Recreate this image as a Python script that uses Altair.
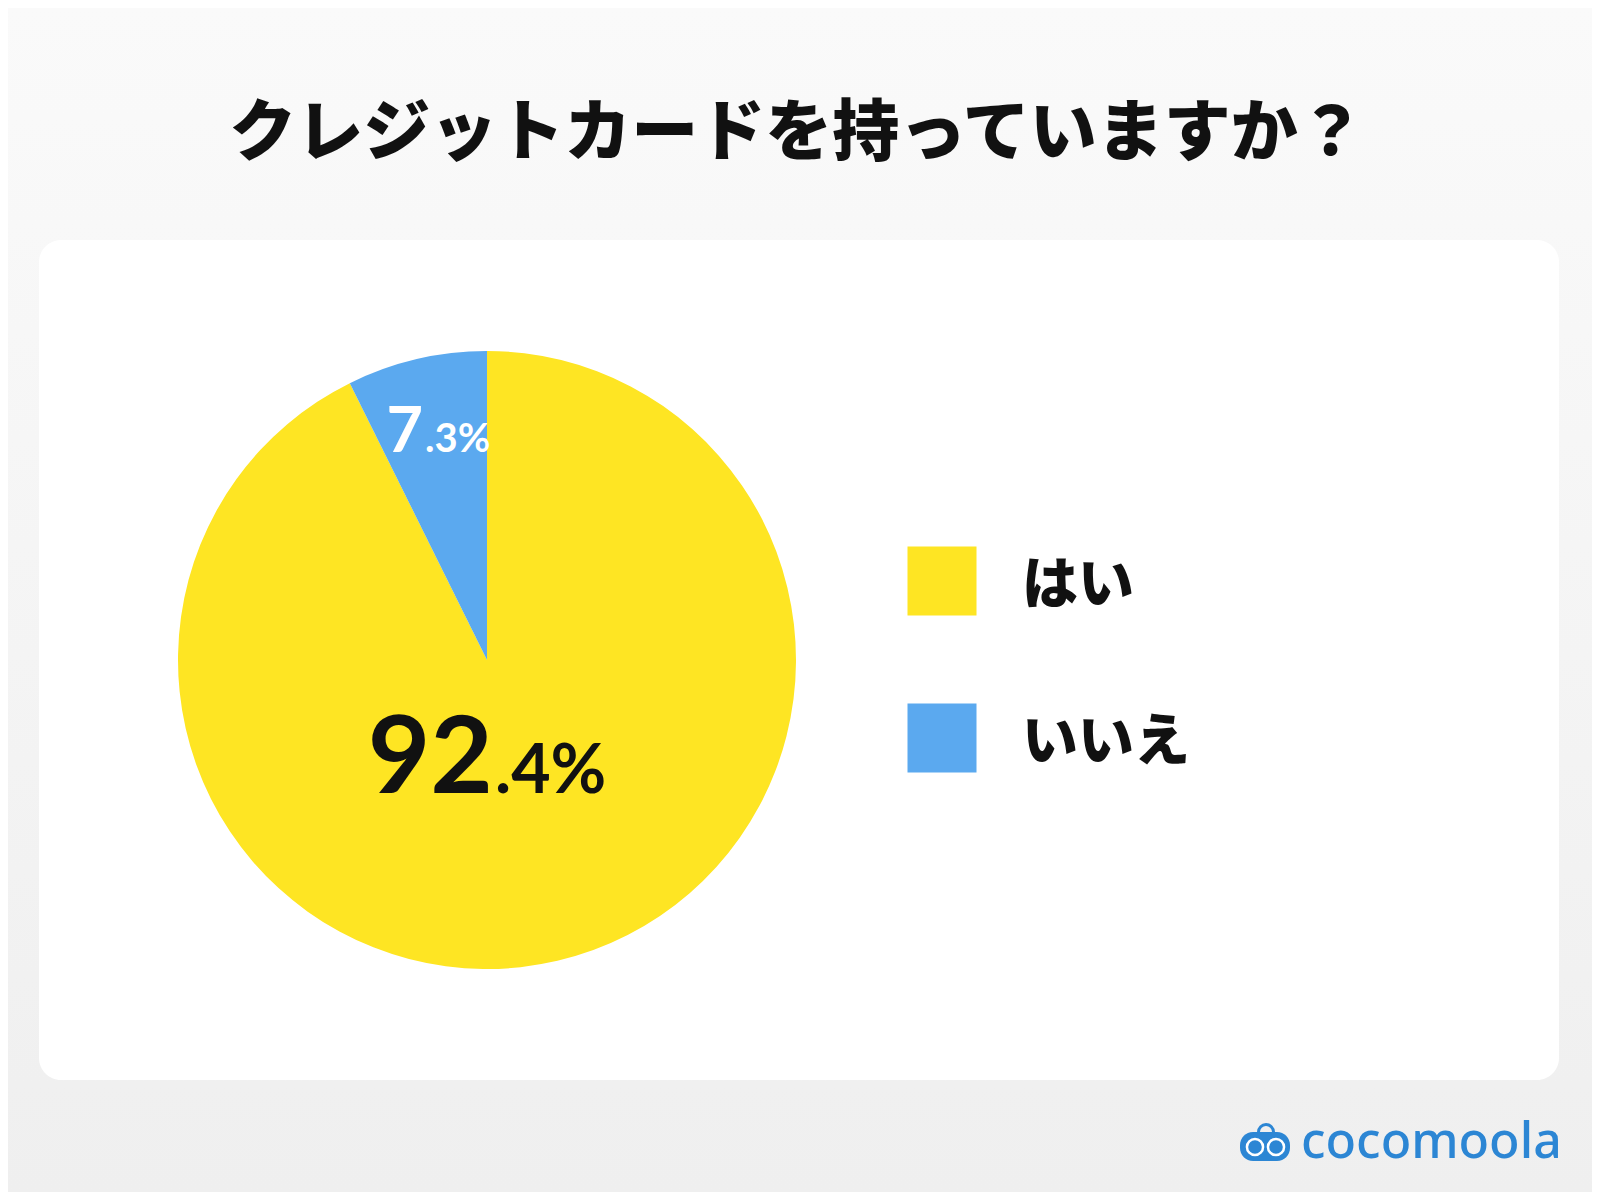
import altair as alt
import pandas as pd

# ---- data ----
categories = ["はい", "いいえ"]
values = [92.4, 7.3]
colors = ["#FEE523", "#5BA9EF"]
title_text = "クレジットカードを持っていますか？"
brand_text = "cocomoola"

df = pd.DataFrame({"answer": categories, "pct": values, "order": list(range(len(categories)))})
df["big"] = [f"{v:.1f}".split(".")[0] for v in values]
df["small"] = ["." + f"{v:.1f}".split(".")[1] + "%" for v in values]

W, H = 1584, 1184
OFF = 8  # page margin; plot coords = reference coords - 8


def P(v):
    return v - OFF


one = pd.DataFrame({"k": [0]})

# background gradient
bg = alt.Chart(one).mark_rect(
    fill=alt.LinearGradient(
        gradient="linear",
        stops=[alt.GradientStop(color="#fafafa", offset=0),
               alt.GradientStop(color="#efefef", offset=1)],
        x1=0, x2=0, y1=0, y2=1,
    ),
    strokeWidth=0,
).encode(x=alt.value(0), x2=alt.value(W), y=alt.value(0), y2=alt.value(H))

# white card
card = alt.Chart(one).mark_rect(fill="white", cornerRadius=22, strokeWidth=0).encode(
    x=alt.value(P(39)), x2=alt.value(P(1559)), y=alt.value(P(240)), y2=alt.value(P(1080))
)

# title
title = alt.Chart(one).mark_text(
    text=title_text, font="Noto Sans CJK JP", fontWeight=900, fontSize=67,
    align="center", baseline="middle", color="#111111",
).encode(x=alt.value(P(797)), y=alt.value(P(135)))

# pie
pie = alt.Chart(df).mark_arc(outerRadius=309, strokeWidth=0).encode(
    theta=alt.Theta("pct:Q", stack=True),
    order=alt.Order("order:Q"),
    color=alt.Color("answer:N", scale=alt.Scale(domain=categories, range=colors), legend=None),
    x=alt.value(P(487)),
    y=alt.value(P(660)),
)

# legend (drawn from the same categories / colours)
leg_y = alt.Y("answer:N",
              scale=alt.Scale(type="point", domain=categories, range=[P(581), P(738)], padding=0),
              axis=None)
leg_sq = alt.Chart(df).mark_square(size=69 * 69, opacity=1, strokeWidth=0).encode(
    x=alt.value(P(942)),
    y=leg_y,
    color=alt.Color("answer:N", scale=alt.Scale(domain=categories, range=colors), legend=None),
)
leg_txt = alt.Chart(df).mark_text(
    font="Noto Sans CJK JP", fontWeight=900, fontSize=56, align="left",
    baseline="middle", color="#111111", dy=5,
).encode(x=alt.value(P(1022)), y=leg_y, text="answer:N")

num_font = "Lato"


def label_layers(cat, x_anchor, y_base, big_size, small_size, color):
    src = alt.Chart(df).transform_filter(alt.datum.answer == cat)
    big = src.mark_text(
        font=num_font, fontWeight="bold", fontSize=big_size, align="right",
        baseline="alphabetic", color=color,
    ).encode(text="big:N", x=alt.value(P(x_anchor)), y=alt.value(P(y_base)))
    small = src.mark_text(
        font=num_font, fontWeight="bold", fontSize=small_size, align="left",
        baseline="alphabetic", color=color,
    ).encode(text="small:N", x=alt.value(P(x_anchor + 2)), y=alt.value(P(y_base)))
    return [big, small]


lab_yes = label_layers("はい", 493, 793, 108, 68, "#111111")
lab_no = label_layers("いいえ", 423, 452, 63, 40, "white")

# brand logo
logo_blue = "#2C86D4"
logo_body = alt.Chart(one).mark_rect(fill=logo_blue, cornerRadius=13, strokeWidth=0).encode(
    x=alt.value(P(1240)), x2=alt.value(P(1290)), y=alt.value(P(1132)), y2=alt.value(P(1161))
)
logo_handle = alt.Chart(one).mark_arc(
    outerRadius=9, innerRadius=6, theta=4.7124, theta2=7.854, fill=logo_blue, strokeWidth=0
).encode(x=alt.value(P(1266)), y=alt.value(P(1132)))
logo_eyes = alt.Chart(pd.DataFrame({"e": [0, 1]})).mark_point(
    shape="circle", filled=False, stroke="white", strokeWidth=2.5, size=260, opacity=1
).encode(
    x=alt.X("e:Q", scale=alt.Scale(domain=[0, 1], range=[P(1255), P(1276)]), axis=None),
    y=alt.value(P(1147)),
)
logo_text = alt.Chart(one).mark_text(
    text=brand_text, font="Noto Sans", fontWeight=500, fontSize=50, align="left",
    baseline="alphabetic", color=logo_blue,
).encode(x=alt.value(P(1301)), y=alt.value(P(1158)))

chart = alt.layer(
    bg, card, title, pie, leg_sq, leg_txt, *lab_yes, *lab_no,
    logo_body, logo_handle, logo_eyes, logo_text
).resolve_scale(y="independent", x="independent").properties(
    width=W, height=H, padding=0, autosize=alt.AutoSizeParams(type="none"),
    background="#f3f3f3",
).configure_view(strokeWidth=0)

chart.save("out.html", embed_options={"renderer": "svg", "actions": False})
